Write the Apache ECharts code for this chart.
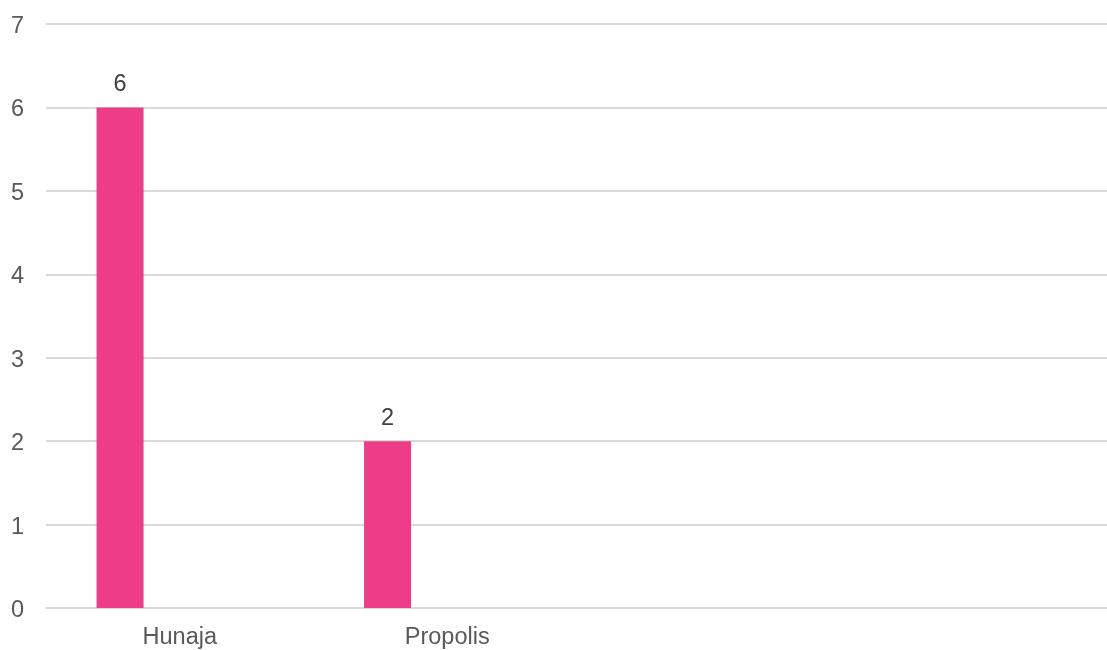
<!DOCTYPE html>
<html>
<head>
<meta charset="utf-8">
<script src="https://cdn.jsdelivr.net/npm/echarts@6/dist/echarts.min.js"></script>
<style>
  html, body { margin: 0; padding: 0; background: #fff; overflow: hidden; width: 1107px; height: 650px; }
  /* the plot runs slightly past the right edge of the window */
  #chart { width: 1116px; height: 650px; }
</style>
</head>
<body>
<div id="chart"></div>
<script>
// Product categories along the x axis (the last two slots are unnamed)
const categories = ['Hunaja', 'Propolis', '', ''];
// Counts per product; the other two series have no entries
const seriesA = [6, 2, null, null];
const seriesB = [null, null, null, null];
const seriesC = [null, null, null, null];
const yTicks = { min: 0, max: 7, interval: 1 };

const font = '"Liberation Sans", Arial, sans-serif';
const chart = echarts.init(document.getElementById('chart'), null, { renderer: 'canvas' });

function barSeries(data, withLabel) {
  return {
    type: 'bar',
    data: data,
    barWidth: 47,
    barGap: '27%',
    itemStyle: { color: '#EE3D88' },
    label: {
      show: withLabel,
      position: 'top',
      distance: 11,
      color: '#404040',
      fontFamily: font,
      fontSize: 23.5
    },
    silent: true
  };
}

chart.setOption({
  animation: false,
  grid: { left: 46, top: 24, bottom: 42, right: 0, containLabel: false },
  xAxis: {
    type: 'category',
    data: categories,
    axisLine: { lineStyle: { color: '#d9d9d9', width: 2 } },
    axisTick: { show: false },
    axisLabel: { color: '#595959', fontFamily: font, fontSize: 23.5, margin: 18 }
  },
  yAxis: {
    type: 'value',
    min: yTicks.min,
    max: yTicks.max,
    interval: yTicks.interval,
    axisLine: { show: false },
    axisTick: { show: false },
    axisLabel: {
      margin: 22,
      formatter: '{v|{value}}',
      rich: { v: { color: '#595959', fontFamily: font, fontSize: 23.5, padding: [5, 0, 0, 0] } }
    },
    splitLine: { lineStyle: { color: '#d9d9d9', width: 2 } }
  },
  series: [barSeries(seriesA, true), barSeries(seriesB, false), barSeries(seriesC, false)]
});
</script>
</body>
</html>
